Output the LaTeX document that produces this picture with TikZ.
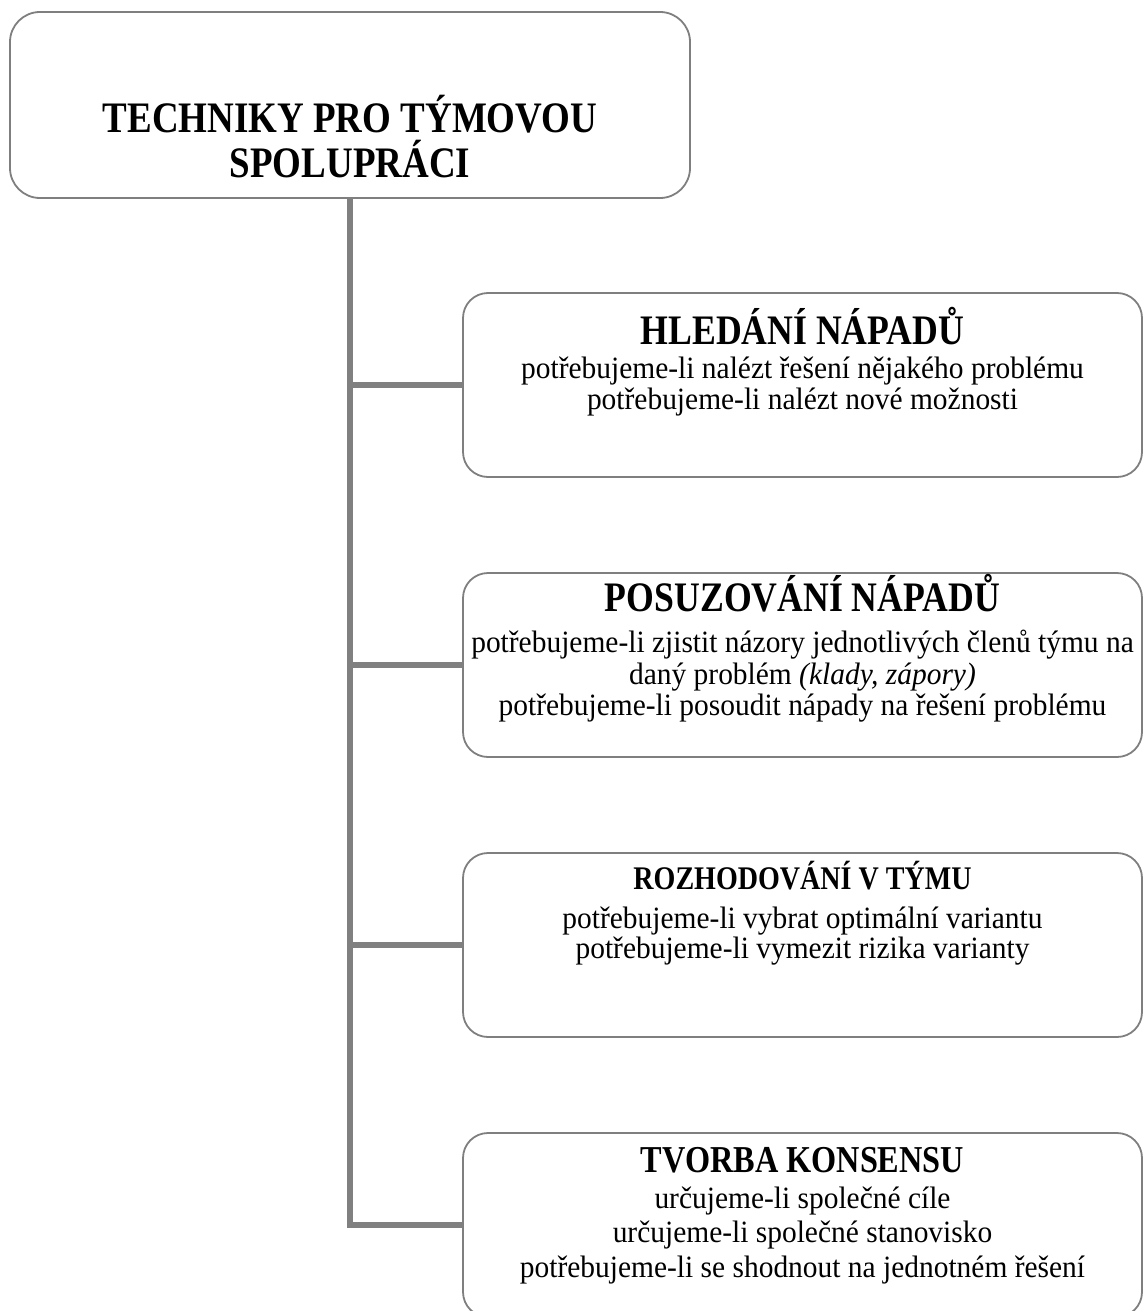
\documentclass[tikz,border=0pt]{standalone}
\usepackage{fontspec}
\setmainfont{Liberation Serif}[FakeStretch=0.95, BoldFont={Liberation Serif Bold}, ItalicFont={Liberation Serif Italic}]
\newfontfamily\hfont{Liberation Serif}[FakeStretch=0.85, BoldFont={Liberation Serif Bold}]
\definecolor{boxgray}{HTML}{7F7F7F}
\definecolor{conngray}{HTML}{808080}
\begin{document}
\begin{tikzpicture}[x=1pt,y=-1pt,
  box/.style={draw=boxgray, line width=1.8pt, rounded corners=25pt, inner sep=0pt, outer sep=0pt},
  conn/.style={draw=conngray, line width=6.5pt},
  ttl/.style={font=\hfont\fontsize{43.5}{44}\selectfont\bfseries, anchor=base, inner sep=0pt},
  hbig/.style={font=\hfont\fontsize{42}{43}\selectfont\bfseries, anchor=base, inner sep=0pt},
  hmid/.style={font=\hfont\fontsize{38}{39}\selectfont\bfseries, anchor=base, inner sep=0pt},
  hsmall/.style={font=\hfont\fontsize{33}{34}\selectfont\bfseries, anchor=base, inner sep=0pt},
  body/.style={font=\fontsize{31}{32}\selectfont, anchor=base, inner sep=0pt},
]
\useasboundingbox (0,0) rectangle (1143,1311);
% boxes
\node[box, rounded corners=30pt, minimum width=680pt, minimum height=186pt, anchor=north west] (title) at (10,12) {};
\node[box, minimum width=679pt, minimum height=184pt, anchor=north west] (b1) at (463,293) {};
\node[box, minimum width=679pt, minimum height=184pt, anchor=north west] (b2) at (463,573) {};
\node[box, minimum width=679pt, minimum height=184pt, anchor=north west] (b3) at (463,853) {};
\node[box, minimum width=679pt, minimum height=184pt, anchor=north west] (b4) at (463,1133) {};
% connectors
\draw[conn] (title.south) |- (b4.west);
\draw[conn] (title.south |- b1.west) -- (b1.west);
\draw[conn] (title.south |- b2.west) -- (b2.west);
\draw[conn] (title.south |- b3.west) -- (b3.west);
% title text
\node[ttl] (t1) at (350,132) {TECHNIKY PRO TÝMOVOU};
\node[ttl] (t2) at (350,177) {SPOLUPRÁCI};
% box 1
\node[hbig] (h1) at (802.5,344) {HLEDÁNÍ NÁPADŮ};
\node[body] (l11) at (802.5,378) {potřebujeme-li nalézt řešení nějakého problému};
\node[body] (l12) at (802.5,409) {potřebujeme-li nalézt nové možnosti};
% box 2
\node[hbig] (h2) at (802.5,611) {POSUZOVÁNÍ NÁPADŮ};
\node[body] (l21) at (802.5,652) {potřebujeme-li zjistit názory jednotlivých členů týmu na};
\node[body] (l22) at (802.5,684) {daný problém \textit{(klady, zápory)}};
\node[body] (l23) at (802.5,715) {potřebujeme-li posoudit nápady na řešení problému};
% box 3
\node[hsmall] (h3) at (802.5,889) {ROZHODOVÁNÍ V TÝMU};
\node[body] (l31) at (802.5,928) {potřebujeme-li vybrat optimální variantu};
\node[body] (l32) at (802.5,958) {potřebujeme-li vymezit rizika varianty};
% box 4
\node[hmid] (h4) at (802.5,1172) {TVORBA KONSENSU};
\node[body] (l41) at (802.5,1208) {určujeme-li společné cíle};
\node[body] (l42) at (802.5,1242) {určujeme-li společné stanovisko};
\node[body] (l43) at (802.5,1277) {potřebujeme-li se shodnout na jednotném řešení};
\end{tikzpicture}
\end{document}
